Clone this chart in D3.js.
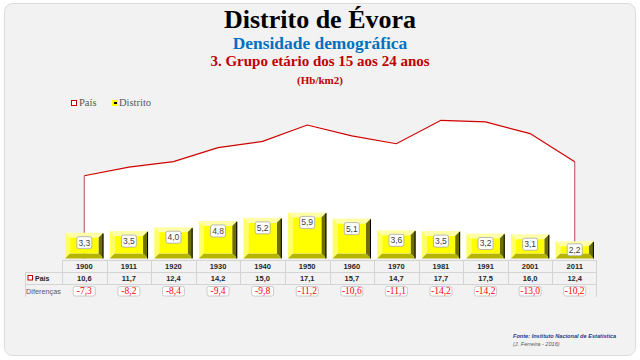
<!DOCTYPE html>
<html><head><meta charset="utf-8">
<script src="https://cdnjs.cloudflare.com/ajax/libs/d3/7.8.5/d3.min.js"></script>
<style>html,body{margin:0;padding:0;background:#fff;}svg{display:block;}</style>
</head><body>
<svg id="c" width="640" height="360"></svg>
<script>
const years = ["1900","1911","1920","1930","1940","1950","1960","1970","1981","1991","2001","2011"];
const distrito = [3.3,3.5,4.0,4.8,5.2,5.9,5.1,3.6,3.5,3.2,3.1,2.2];
const pais = [10.6,11.7,12.4,14.2,15.0,17.1,15.7,14.7,17.7,17.5,16.0,12.4];
const diferencas = [-7.3,-8.2,-8.4,-9.4,-9.8,-11.2,-10.6,-11.1,-14.2,-14.2,-13.0,-10.2];

const fmt = v => d3.format(".1f")(v).replace(".", ",").replace("\u2212", "-");
const svg = d3.select("#c");

svg.append("rect").attr("x",4.5).attr("y",3.5).attr("width",631).attr("height",352)
  .attr("rx",8).attr("fill","#f2f2f2").attr("stroke","#dcdcdc");

const serif = "'Liberation Serif','Times New Roman',serif";
const sans = "'Liberation Sans',Arial,sans-serif";

svg.append("text").attr("x",320).attr("y",28).attr("text-anchor","middle")
  .attr("font-family",serif).attr("font-weight","bold").attr("font-size",26).attr("fill","#000").text("Distrito de Évora");
svg.append("text").attr("x",320).attr("y",49).attr("text-anchor","middle")
  .attr("font-family",serif).attr("font-weight","bold").attr("font-size",17.4).attr("fill","#0070c0").text("Densidade demográfica");
svg.append("text").attr("x",320).attr("y",66).attr("text-anchor","middle")
  .attr("font-family",serif).attr("font-weight","bold").attr("font-size",15).attr("fill","#c00000").text("3. Grupo etário dos 15 aos 24 anos");
svg.append("text").attr("x",320).attr("y",84).attr("text-anchor","middle")
  .attr("font-family",serif).attr("font-weight","bold").attr("font-size",11).attr("fill","#c00000").text("(Hb/km2)");

// legend
svg.append("rect").attr("x",71.5).attr("y",100.5).attr("width",5).attr("height",5).attr("fill","#fff").attr("stroke","#c00000");
svg.append("text").attr("x",79).attr("y",106).attr("font-family",serif).attr("font-size",10.5).attr("fill","#595959").text("País");
svg.append("rect").attr("x",112).attr("y",100).attr("width",6).attr("height",6).attr("fill","#ffff00");
svg.append("rect").attr("x",114).attr("y",102).attr("width",3).attr("height",2).attr("fill","#000");
svg.append("text").attr("x",119).attr("y",106).attr("font-family",serif).attr("font-size",10.5).attr("fill","#595959").text("Distrito");

// scales
const x = d3.scaleBand().domain(years).range([62,597]).paddingInner(0.14).paddingOuter(0.07);
const y = d3.scaleLinear().domain([0,20]).range([258.4, 258.4-156]);
const cx = d => x(d) + x.bandwidth()/2;

// area for País
const pts = years.map((yr,i)=>[cx(yr), pais[i]]);
const area = d3.area().x(d=>d[0]).y0(y(0)).y1(d=>y(d[1]));
svg.append("path").datum(pts).attr("d",area).attr("fill","#fff").attr("stroke","none");
svg.append("path").datum(pts).attr("d",d3.line().x(d=>d[0]).y(d=>y(d[1])))
  .attr("fill","none").attr("stroke","#d00000").attr("stroke-width",1.2);
[0, years.length-1].forEach(i=>{
  svg.append("line").attr("x1",cx(years[i])).attr("x2",cx(years[i]))
    .attr("y1",y(pais[i])).attr("y2",y(0)).attr("stroke","#b86a6a").attr("stroke-width",1.2);
});

// bars with bevel
const gb = svg.append("g");
years.forEach((yr,i)=>{
  const x0 = x(yr), x1 = x0 + x.bandwidth();
  const y0 = y(distrito[i]), y1 = y(0);
  const b = 5;
  const g = gb.append("g");
  const poly = (p, c) => g.append("polygon").attr("points", p.map(q=>q.join(",")).join(" ")).attr("fill", c);
  poly([[x0,y0],[x1,y0],[x1-b,y0+b],[x0+b,y0+b]], "#ffffa8");
  poly([[x0,y0],[x0+b,y0+b],[x0+b,y1-b],[x0,y1]], "#ffff66");
  poly([[x1,y0],[x1,y1],[x1-b,y1-b],[x1-b,y0+b]], "#6e6e00");
  poly([[x0,y1],[x1,y1],[x1-b,y1-b],[x0+b,y1-b]], "#b5b500");
  g.append("rect").attr("x",x0+b).attr("y",y0+b).attr("width",x1-x0-2*b).attr("height",Math.max(0,y1-y0-2*b)).attr("fill","#ffff00");
  g.append("line").attr("x1",x1-0.5).attr("x2",x1-0.5).attr("y1",y0+1).attr("y2",y1).attr("stroke","#000").attr("stroke-width",1);
  // label
  const h = y1-y0, bh = 12, bw = 15;
  const top = y0 + Math.min(4, (h-bh)/2);
  g.append("rect").attr("x",cx(yr)-bw/2).attr("y",top).attr("width",bw).attr("height",bh).attr("rx",2)
    .attr("fill","#fff").attr("stroke","#a6a6a6").attr("stroke-width",0.8);
  g.append("text").attr("x",cx(yr)).attr("y",top+bh/2+3).attr("text-anchor","middle")
    .attr("font-family",sans).attr("font-size",8.5).attr("fill","#404040").text(fmt(distrito[i]));
});

// table
const gt = svg.append("g");
const grid = "#d4d4d4";
const r0 = 260, r1 = 272, r2 = 284, r3 = 297;
gt.append("line").attr("x1",62).attr("x2",597).attr("y1",r0+0.5).attr("y2",r0+0.5).attr("stroke",grid);
gt.append("line").attr("x1",25).attr("x2",597).attr("y1",r1+0.5).attr("y2",r1+0.5).attr("stroke",grid);
gt.append("line").attr("x1",25).attr("x2",597).attr("y1",r2+0.5).attr("y2",r2+0.5).attr("stroke",grid);
gt.append("line").attr("x1",25.5).attr("x2",25.5).attr("y1",r1).attr("y2",r3).attr("stroke",grid);
const step = x.step();
years.forEach((yr,i)=>{
  const xl = Math.round(62 + i*step)+0.5;
  gt.append("line").attr("x1",xl).attr("x2",xl).attr("y1",r0).attr("y2",r2).attr("stroke",grid);
});
gt.append("line").attr("x1",596.5).attr("x2",596.5).attr("y1",r0).attr("y2",r3).attr("stroke",grid);

years.forEach((yr,i)=>{
  gt.append("text").attr("x",cx(yr)).attr("y",269).attr("text-anchor","middle")
    .attr("font-family",sans).attr("font-weight","bold").attr("font-size",7.5).attr("fill","#262626").text(yr);
  gt.append("text").attr("x",cx(yr)).attr("y",281).attr("text-anchor","middle")
    .attr("font-family",sans).attr("font-weight","bold").attr("font-size",7.5).attr("fill","#262626").text(fmt(pais[i]));
  gt.append("rect").attr("x",cx(yr)-11).attr("y",286.5).attr("width",22).attr("height",9.5).attr("rx",2)
    .attr("fill","#fff").attr("stroke","#bfbfbf").attr("stroke-width",0.8);
  gt.append("text").attr("x",cx(yr)).attr("y",294.3).attr("text-anchor","middle")
    .attr("font-family",serif).attr("font-size",9.5).attr("fill","#ff0000").text(fmt(diferencas[i]));
});
gt.append("rect").attr("x",28).attr("y",275.5).attr("width",4.5).attr("height",4.5).attr("fill","#fff").attr("stroke","#c00000").attr("stroke-width",1);
gt.append("text").attr("x",35).attr("y",281).attr("font-family",sans).attr("font-weight","bold").attr("font-size",7).attr("fill","#262626").text("País");
gt.append("text").attr("x",26).attr("y",293.5).attr("font-family",sans).attr("font-size",7.3).attr("fill","#595959").text("Diferenças");

// source
svg.append("text").attr("x",513).attr("y",338).attr("font-family",sans).attr("font-weight","bold").attr("font-style","italic")
  .attr("font-size",5.6).attr("fill","#1f3a8a").text("Fonte: Instituto Nacional de Estatística");
svg.append("text").attr("x",513).attr("y",346).attr("font-family",sans).attr("font-style","italic")
  .attr("font-size",5.6).attr("fill","#595959").text("(J. Ferreira - 2016)");
</script>
</body></html>
